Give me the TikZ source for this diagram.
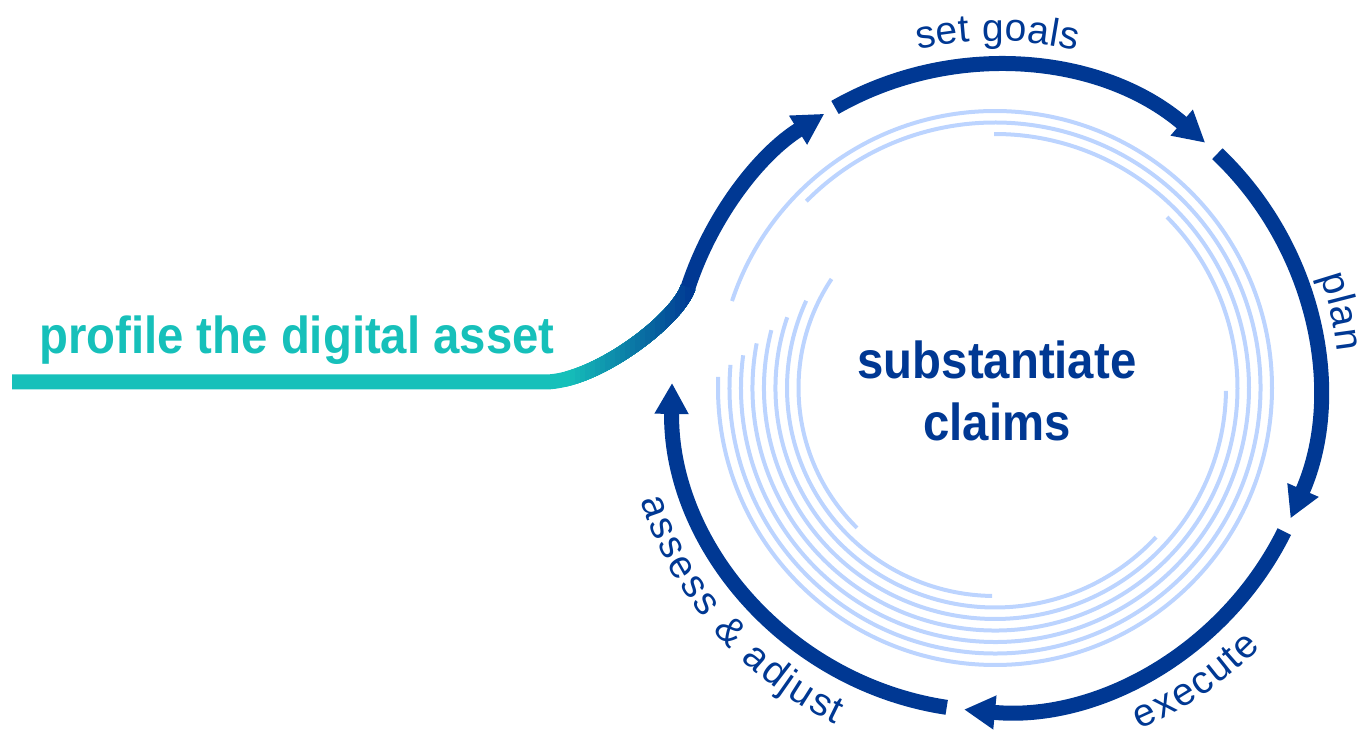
\documentclass[tikz,border=0pt]{standalone}
\usepackage{fontspec}
\setmainfont{Liberation Sans}
\newfontfamily\claimfont[FakeStretch=0.91]{Liberation Sans}
\usetikzlibrary{arrows.meta,calc}

\definecolor{cycleblue}{RGB}{0,56,147}
\definecolor{assetteal}{RGB}{22,192,186}
\definecolor{spiralblue}{RGB}{188,212,255}

% letters of a step name set round the cycle:
% #1 name, #2 radius, #3 centre angle, #4 degrees per em, #5 side (1 outer top, -1 outer bottom), #6 letter/offset list
\newcommand{\steplabel}[6]{%
  \foreach \ch/\off [count=\i] in {#6} {
    \pgfmathsetmacro\ang{(#3)-(#5)*(#4)*(\off)}
    \pgfmathsetmacro\rot{\ang-(#5)*90}
    \node[steptext,rotate=\rot] (#1\i) at ($(C)+(\ang:#2pt)$) {\ch};
  }}

\begin{document}
\begin{tikzpicture}[x=1pt,y=1pt,
    cyclering/.style={line width=15pt,draw=cycleblue},
    cyclearrow/.style={cyclering,-{Triangle[length=31pt,width=32pt]}},
    spiralarc/.style={line width=4pt,draw=spiralblue},
    assetline/.style={line width=15pt,draw=assetteal},
    steptext/.style={anchor=base,inner sep=0pt,text=cycleblue,font=\fontsize{39}{40}\selectfont},
    claimtext/.style={inner sep=0pt,text=cycleblue,font=\claimfont\bfseries\fontsize{52}{56}\selectfont},
    assettext/.style={inner sep=0pt,text=assetteal,font=\claimfont\bfseries\fontsize{52}{56}\selectfont}]
      \useasboundingbox (0,0) rectangle (1363,731);
      \coordinate (C) at (995,343);

      % light spiral inside the cycle
      \foreach \rad/\sa/\ea in {277/177.7/521.7, 265.5/175/495.3, 254/172.6/450.2, 242.5/169.4/404.8,
                                231/165.5/359.3, 219.5/161.2/317.2, 208/155.2/269.2, 196.5/146.3/225.4}
        \draw[spiralarc] ([shift={(\sa:\rad pt)}]C) arc[start angle=\sa, end angle=\ea, radius=\rad pt];

      % lead-in line, teal fading into the cycle blue
      \coordinate (start) at (12,349);
      \coordinate (bend)  at (545,349);
      \coordinate (join)  at ($(C)+(161.8:323pt)$);
      \draw[assetline] (start) -- (bend) .. controls +(50,0) and +(-11,-33.5) .. (join);
      \foreach \i in {0,...,25} {
        \pgfmathtruncatemacro\mix{4*\i}
        \begin{scope}
          \clip (565+5*\i,300) rectangle (720,470);
          \draw[assetline,draw=cycleblue!\mix!assetteal] (bend) .. controls +(50,0) and +(-11,-33.5) .. (join);
        \end{scope}
      }
      \draw[cyclearrow] (join) arc[start angle=161.8, end angle=121.9, radius=323pt];

      % the four steps
      \foreach \sa/\ea in {119.7/49.4, 46.5/-23.8, -26.4/-95.5, -98.6/-180.9}
        \draw[cyclearrow] ([shift={(\sa:323pt)}]C) arc[start angle=\sa, end angle=\ea, radius=323pt];

      \steplabel{goals}{347}{89.6}{6.62}{1}{s/-1.751, e/-1.223, t/-0.806, g/-0.111, o/0.445, a/1.001, l/1.39, s/1.751}
      \steplabel{plan}{344}{12.45}{7.0}{1}{p/-0.667, l/-0.278, a/0.111, n/0.667}
      \steplabel{exec}{371}{-55.65}{6.6}{-1}{e/-1.473, x/-0.945, e/-0.417, c/0.111, u/0.639, t/1.056, e/1.473}
      \steplabel{assess}{372}{221.1}{6.75}{-1}{a/-3.2235, s/-2.6955, s/-2.1955, e/-1.6675, s/-1.1395, s/-0.6395,
        \&/0.222, a/1.1115, d/1.6675, j/2.0565, u/2.4455, s/2.9735, t/3.3625}

      \node[assettext,anchor=base west] (profile) at (39,377) {profile the digital asset};
      \node[claimtext,anchor=base] (subst)  at (997,352) {substantiate};
      \node[claimtext,anchor=base] (claims) at (997,290) {claims};
\end{tikzpicture}
\end{document}
